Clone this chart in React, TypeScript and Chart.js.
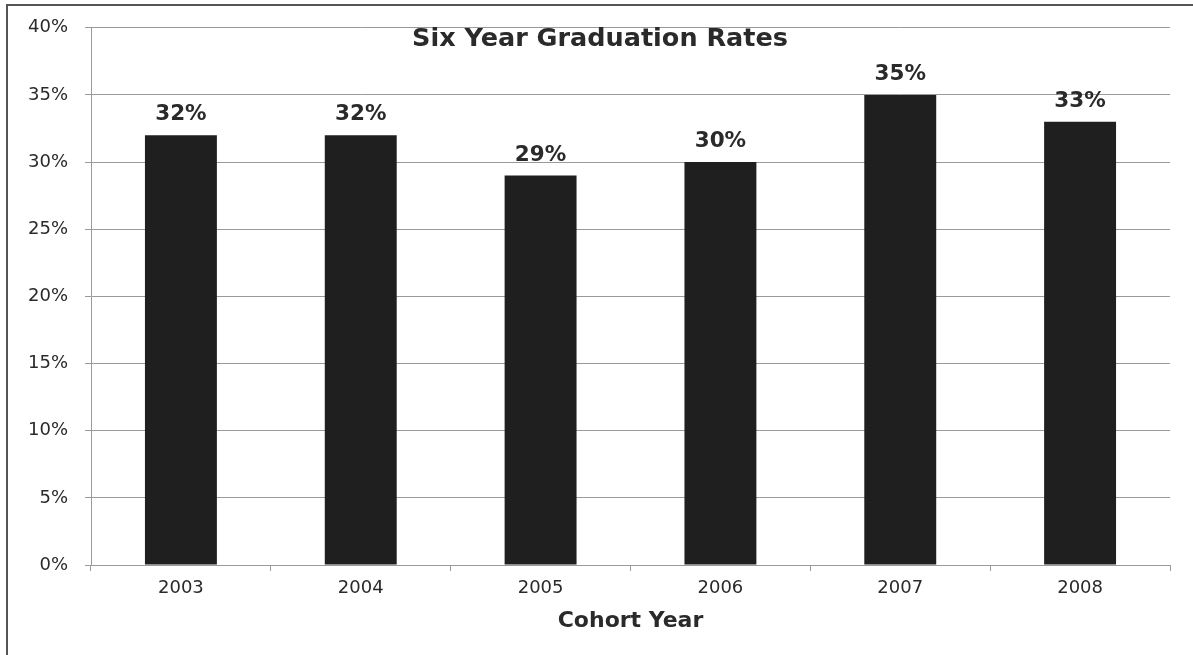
import React, { useEffect, useRef } from "react";
import { Chart, registerables } from "chart.js";

Chart.register(...registerables);

const categories = ["2003", "2004", "2005", "2006", "2007", "2008"];
const gradRates = [0.32, 0.32, 0.29, 0.3, 0.35, 0.33];
const yTicks = { min: 0, max: 0.4, step: 0.05 };
const chartTitle = "Six Year Graduation Rates";
const xAxisTitle = "Cohort Year";

const FONT = "'DejaVu Sans', Verdana, sans-serif";
const BAR_COLOR = "#1f1f1f";
const GRID_COLOR = "#9a9a9a";
const TEXT_COLOR = "#2a2a2a";

const pct = (v: number) => `${Math.round(v * 100)}%`;

const labelsPlugin = {
  id: "barLabels",
  afterDatasetsDraw(chart: any) {
    const ctx = chart.ctx;
    const meta = chart.getDatasetMeta(0);
    ctx.save();
    ctx.font = `bold 21.5px ${FONT}`;
    ctx.fillStyle = TEXT_COLOR;
    ctx.textAlign = "center";
    ctx.textBaseline = "alphabetic";
    meta.data.forEach((bar: any, i: number) => {
      ctx.fillText(pct(gradRates[i]), bar.x, bar.y - 15);
    });
    ctx.restore();
  },
};

const titlePlugin = {
  id: "innerTitle",
  afterDraw(chart: any) {
    const ctx = chart.ctx;
    ctx.save();
    ctx.font = `bold 25.5px ${FONT}`;
    ctx.fillStyle = TEXT_COLOR;
    ctx.textAlign = "center";
    ctx.textBaseline = "alphabetic";
    ctx.fillText(chartTitle, (7 + chart.width) / 2, 46);
    ctx.restore();
  },
};

export default function App() {
  const canvasRef = useRef<HTMLCanvasElement | null>(null);

  useEffect(() => {
    if (!canvasRef.current) return;
    const chart = new Chart(canvasRef.current, {
      type: "bar",
      data: {
        labels: categories,
        datasets: [
          {
            data: gradRates,
            backgroundColor: BAR_COLOR,
            borderWidth: 0,
            categoryPercentage: 1,
            barPercentage: 0.4,
          },
        ],
      },
      options: {
        animation: false,
        responsive: false,
        maintainAspectRatio: false,
        layout: { padding: { left: 0, right: 23, top: 27, bottom: 0 } },
        plugins: {
          legend: { display: false },
          title: { display: false },
          tooltip: { enabled: false },
        },
        scales: {
          x: {
            afterFit: (scale: any) => {
              scale.height = 90;
            },
            grid: {
              offset: true,
              drawOnChartArea: false,
              drawTicks: true,
              tickLength: 6,
              color: GRID_COLOR,
              lineWidth: 1,
            },
            border: { display: true, color: GRID_COLOR, width: 1 },
            ticks: {
              padding: 7,
              color: TEXT_COLOR,
              font: { family: FONT, size: 18 },
            },
            title: {
              display: true,
              text: xAxisTitle,
              color: TEXT_COLOR,
              font: { family: FONT, size: 22, weight: "bold" },
              padding: { top: 0, bottom: 21 },
            },
          },
          y: {
            min: yTicks.min,
            max: yTicks.max,
            afterFit: (scale: any) => {
              scale.width = 91;
            },
            grid: {
              color: GRID_COLOR,
              lineWidth: 1,
              drawTicks: true,
              tickLength: 6,
            },
            border: { display: true, color: GRID_COLOR, width: 1 },
            ticks: {
              stepSize: yTicks.step,
              padding: 17,
              color: TEXT_COLOR,
              font: { family: FONT, size: 18 },
              callback: (v: any) => pct(Number(v)),
            },
          },
        },
      },
      plugins: [labelsPlugin, titlePlugin],
    });
    return () => chart.destroy();
  }, []);

  return (
    <div
      style={{
        position: "fixed",
        left: 0,
        top: 0,
        width: 1193,
        height: 655,
        overflow: "hidden",
        background: "#fff",
      }}
    >
      <canvas
        ref={canvasRef}
        width={1193}
        height={655}
        style={{ position: "absolute", left: 0, top: 0, width: 1193, height: 655 }}
      />
      <div
        style={{
          position: "absolute",
          left: 6,
          top: 4,
          width: 1300,
          height: 800,
          border: "2px solid #555",
          pointerEvents: "none",
        }}
      />
    </div>
  );
}
